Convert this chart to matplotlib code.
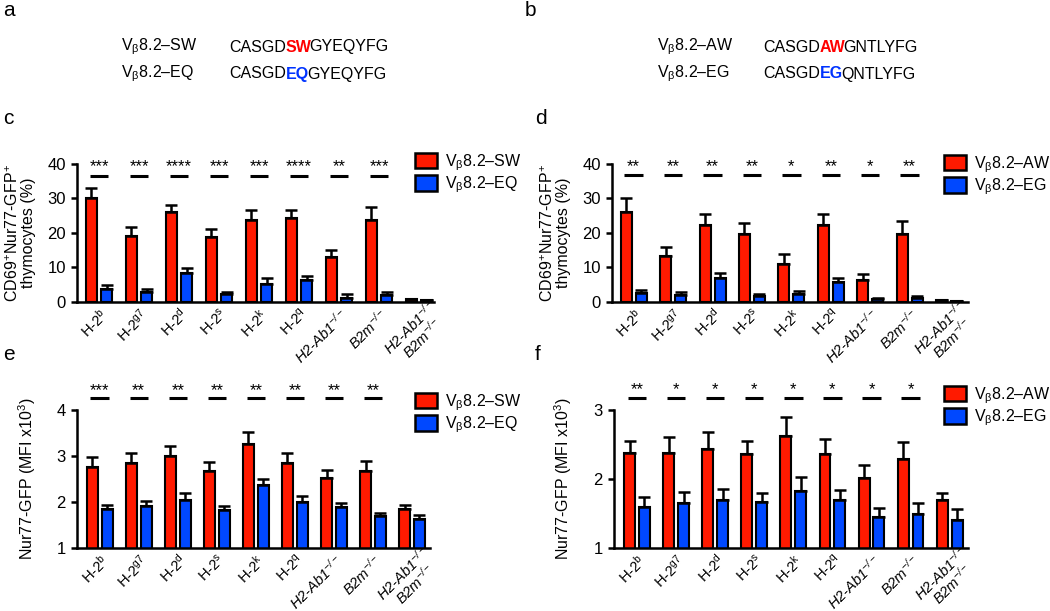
import matplotlib
matplotlib.use('Agg')
import matplotlib.pyplot as plt
import matplotlib.transforms as mtransforms
from matplotlib.patches import Patch
import numpy as np

plt.rcParams['font.family'] = ['Liberation Sans', 'DejaVu Sans']
plt.rcParams['mathtext.fontset'] = 'custom'
plt.rcParams['mathtext.rm'] = 'Liberation Sans'
plt.rcParams['mathtext.it'] = 'Liberation Sans:italic'
plt.rcParams['mathtext.bf'] = 'Liberation Sans:bold'
plt.rcParams['mathtext.default'] = 'regular'

# ---------------- data ----------------
categories = [r'H-2$^{b}$', r'H-2$^{g7}$', r'H-2$^{d}$', r'H-2$^{s}$', r'H-2$^{k}$',
              r'H-2$^{q}$', 'H2-Ab1$^{-/-}$', 'B2m$^{-/-}$', 'H2-Ab1$^{-/-}$\nB2m$^{-/-}$']
italic_cats = [False, False, False, False, False, False, True, True, True]

c_sw = [30.0, 19.2, 26.1, 18.7, 23.7, 24.4, 13.1, 23.9, 0.8]
c_sw_err = [3.1, 2.6, 2.0, 2.6, 2.9, 2.4, 2.1, 3.7, 0.1]
c_eq = [3.8, 2.9, 8.4, 2.2, 5.3, 6.5, 1.3, 2.1, 0.5]
c_eq_err = [1.0, 1.0, 1.4, 0.7, 1.6, 1.0, 0.9, 0.8, 0.1]
c_stars = ['***', '***', '****', '***', '***', '****', '**', '***']

d_aw = [26.2, 13.4, 22.4, 19.6, 11.1, 22.4, 6.3, 19.6, 0.5]
d_aw_err = [4.0, 2.6, 3.1, 3.4, 2.7, 3.1, 1.9, 4.0, 0.1]
d_eg = [2.7, 1.9, 7.1, 1.6, 2.3, 5.9, 0.8, 1.1, 0.3]
d_eg_err = [0.9, 1.0, 1.3, 0.7, 0.9, 1.2, 0.4, 0.7, 0.1]
d_stars = ['**', '**', '**', '**', '*', '**', '*', '**']

e_sw = [2.76, 2.84, 2.99, 2.67, 3.26, 2.85, 2.52, 2.67, 1.85]
e_sw_err = [0.21, 0.22, 0.23, 0.20, 0.26, 0.21, 0.18, 0.22, 0.08]
e_eq = [1.85, 1.91, 2.05, 1.82, 2.36, 2.00, 1.89, 1.69, 1.63]
e_eq_err = [0.08, 0.12, 0.14, 0.10, 0.15, 0.12, 0.08, 0.07, 0.08]
e_stars = ['***', '**', '**', '**', '**', '**', '**', '**']

f_aw = [2.38, 2.37, 2.43, 2.36, 2.63, 2.36, 2.01, 2.29, 1.70]
f_aw_err = [0.17, 0.24, 0.25, 0.19, 0.27, 0.22, 0.19, 0.25, 0.10]
f_eg = [1.59, 1.65, 1.70, 1.66, 1.83, 1.69, 1.45, 1.49, 1.41]
f_eg_err = [0.15, 0.16, 0.15, 0.14, 0.20, 0.15, 0.13, 0.16, 0.16]
f_stars = ['**', '*', '*', '*', '*', '*', '*', '*']

RED = '#ff1a00'
BLUE = '#0048ff'
W, H = 1050, 611

fig = plt.figure(figsize=(10.5, 6.11), dpi=100)

ov = fig.add_axes([0, 0, 1, 1])
ov.set_xlim(0, W)
ov.set_ylim(H, 0)
ov.axis('off')


def px_axes(x0, y0, x1, y1):
    return fig.add_axes([x0 / W, 1 - y1 / H, (x1 - x0) / W, (y1 - y0) / H])


def panel(ax, a, a_err, b, b_err, stars, ylim, yticks, xlim, line_y, star_y):
    x = np.arange(len(categories))
    off, bw = 0.19, 0.28
    ax.bar(x - off, a, bw, color=RED, edgecolor='black', linewidth=1.5, zorder=2)
    ax.bar(x + off, b, bw, color=BLUE, edgecolor='black', linewidth=1.5, zorder=2)
    ax.errorbar(x - off, a, yerr=[np.zeros(len(a)), a_err], fmt='none', ecolor='black',
                elinewidth=1.8, capsize=4.2, capthick=1.8, zorder=3)
    ax.errorbar(x + off, b, yerr=[np.zeros(len(b)), b_err], fmt='none', ecolor='black',
                elinewidth=1.8, capsize=4.2, capthick=1.8, zorder=3)
    ax.set_xlim(*xlim)
    ax.set_ylim(*ylim)
    ax.set_yticks(yticks)
    ax.set_xticks(x)
    ax.tick_params(axis='x', length=0, pad=2.5)
    ax.tick_params(axis='y', length=4, width=1.8, pad=4, labelsize=12, direction='out')
    ax.set_xticklabels(categories, rotation=45, ha='right', rotation_mode='anchor',
                       fontsize=10.5, multialignment='center')
    labs = ax.get_xticklabels()
    for lab, it in zip(labs, italic_cats):
        if it:
            lab.set_fontstyle('italic')
    labs[-1].set_linespacing(0.9)
    labs[-1].set_transform(labs[-1].get_transform() +
                           mtransforms.ScaledTranslation(9 / 100, 9 / 100,
                                                         fig.dpi_scale_trans))
    for s in ['top', 'right']:
        ax.spines[s].set_visible(False)
    for s in ['left', 'bottom']:
        ax.spines[s].set_linewidth(1.8)
    for i, st in enumerate(stars):
        ax.plot([i - 0.235, i + 0.235], [line_y, line_y], color='black', lw=2.2,
                clip_on=False, solid_capstyle='butt')
        ax.text(i, star_y, st, ha='center', va='center', fontsize=12, clip_on=False)


def legend(ax, labels, x, y):
    handles = [Patch(facecolor=RED, edgecolor='black', linewidth=1.8, label=labels[0]),
               Patch(facecolor=BLUE, edgecolor='black', linewidth=1.8, label=labels[1])]
    ax.legend(handles=handles, loc='upper left', bbox_to_anchor=(x, y),
              bbox_transform=ov.transData, frameon=False, fontsize=11.5,
              handlelength=1.35, handleheight=1.1, handletextpad=0.55,
              labelspacing=0.12, borderpad=0, borderaxespad=0)


axc = px_axes(77, 164, 434, 302)
panel(axc, c_sw, c_sw_err, c_eq, c_eq_err, c_stars, (0, 40), [0, 10, 20, 30, 40],
      (-0.55, 8.375), 36.5, 39.3)
legend(axc, [r'V$_{\beta}$8.2–SW', r'V$_{\beta}$8.2–EQ'], 415, 152)

axd = px_axes(612, 164, 968, 302)
panel(axd, d_aw, d_aw_err, d_eg, d_eg_err, d_stars, (0, 40), [0, 10, 20, 30, 40],
      (-0.55, 8.48), 36.8, 39.3)
legend(axd, [r'V$_{\beta}$8.2–AW', r'V$_{\beta}$8.2–EG'], 944, 154)

axe = px_axes(77, 410, 430, 548)
panel(axe, e_sw, e_sw_err, e_eq, e_eq_err, e_stars, (1, 4), [1, 2, 3, 4],
      (-0.58, 8.46), 4.26, 4.43)
legend(axe, [r'V$_{\beta}$8.2–SW', r'V$_{\beta}$8.2–EQ'], 415, 392)

axf = px_axes(614, 410, 968, 548)
panel(axf, f_aw, f_aw_err, f_eg, f_eg_err, f_stars, (1, 3), [1, 2, 3],
      (-0.59, 8.47), 3.17, 3.29)
legend(axf, [r'V$_{\beta}$8.2–AW', r'V$_{\beta}$8.2–EG'], 944, 385)

# y labels
ylab_c = 'CD69$^{+}$Nur77-GFP$^{+}$\nthymocytes (%)'
ov.text(20, 233, ylab_c, rotation=90, ha='center', va='center', fontsize=11.5,
        linespacing=1.0, multialignment='center')
ov.text(555, 233, ylab_c, rotation=90, ha='center', va='center', fontsize=11.5,
        linespacing=1.0, multialignment='center')
ylab_e = 'Nur77-GFP (MFI x10$^{3}$)'
ov.text(27.5, 479, ylab_e, rotation=90, ha='center', va='center', fontsize=11.5)
ov.text(563, 479, ylab_e, rotation=90, ha='center', va='center', fontsize=11.5)

# panel letters
for letter, (lx, ly) in zip('abcdef', [(3, 11), (525, 11), (3, 118), (535, 118),
                                        (3, 354), (535, 354)]):
    ov.text(lx, ly, letter, fontsize=15, ha='left', va='center')


# sequences
def seq(x_name, x_seq, y, name, pre, mid, post, color):
    ov.text(x_name, y, name, fontsize=11.5, ha='left', va='center')
    t1 = ov.text(x_seq, y, pre, fontsize=11.5, ha='left', va='center')
    t2 = ov.annotate(mid, xy=(1, 0), xycoords=t1, ha='left', va='bottom',
                     fontsize=11.5, fontweight='bold', color=color)
    ov.annotate(post, xy=(1, 0), xycoords=t2, xytext=(-1.5, 0), textcoords='offset points',
                ha='left', va='bottom', fontsize=11.5)


seq(121, 229, 47, r'V$_{\beta}$8.2–SW', 'CASGD', 'SW', 'GYEQYFG', '#ff0000')
seq(121, 229, 74, r'V$_{\beta}$8.2–EQ', 'CASGD', 'EQ', 'GYEQYFG', '#0033ff')
seq(657, 763, 47, r'V$_{\beta}$8.2–AW', 'CASGD', 'AW', 'GNTLYFG', '#ff0000')
seq(657, 763, 74, r'V$_{\beta}$8.2–EG', 'CASGD', 'EG', 'QNTLYFG', '#0033ff')

fig.savefig('out.png', dpi=100)
